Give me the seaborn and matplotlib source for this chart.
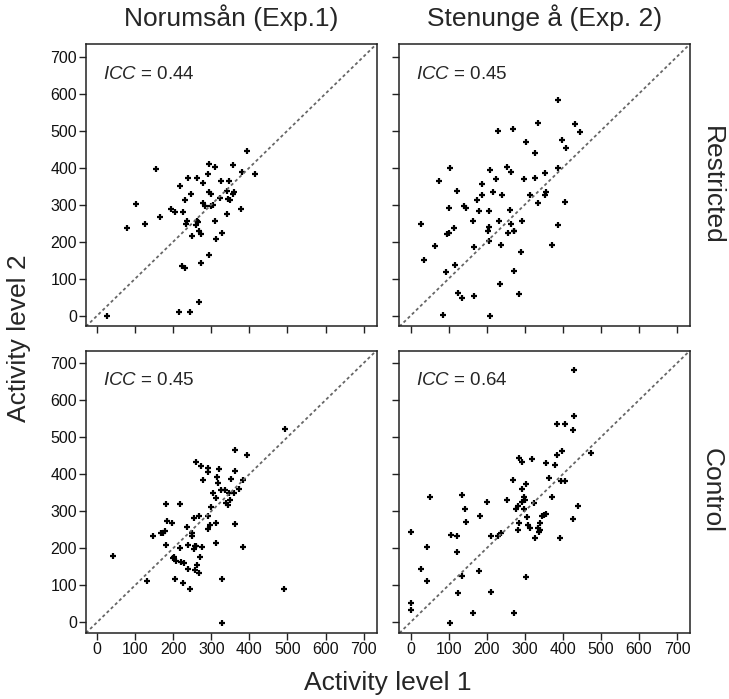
import numpy as np
import pandas as pd
import matplotlib
matplotlib.use("Agg")
import matplotlib.pyplot as plt
import seaborn as sns

# ---- data ----
streams = ["Norumsån (Exp.1)", "Stenunge å (Exp. 2)"]
treatments = ["Restricted", "Control"]
icc_values = {("Norumsån (Exp.1)", "Restricted"): "0.44",
              ("Stenunge å (Exp. 2)", "Restricted"): "0.45",
              ("Norumsån (Exp.1)", "Control"): "0.45",
              ("Stenunge å (Exp. 2)", "Control"): "0.64"}

nor_res_x = [394, 155, 295, 309, 358, 381, 415, 239, 263, 292, 279, 218, 325, 346,
             295, 298, 246, 230, 341, 359, 356, 322, 343, 349, 102, 279, 284, 299,
             305, 193, 205, 226, 379, 341, 165, 127, 78, 237, 262, 266, 260, 233,
             309, 267, 273, 250, 328, 312, 295, 274, 223, 230, 268, 215, 243, 25]
nor_res_y = [444, 397, 411, 402, 406, 388, 384, 373, 373, 384, 359, 350, 363, 363,
             334, 328, 330, 313, 336, 334, 330, 319, 315, 312, 301, 304, 297, 296,
             300, 287, 279, 279, 287, 274, 266, 249, 236, 257, 257, 252, 246, 247,
             257, 228, 221, 215, 223, 206, 164, 143, 134, 129, 36, 11, 11, -1]

ste_res_x = [388, 335, 433, 446, 229, 269, 302, 397, 408, 326, 105, 208, 253, 265,
             387, 352, 76, 225, 299, 326, 187, 122, 216, 187, 240, 314, 355, 352,
             175, 141, 146, 102, 336, 405, 179, 205, 261, 27, 163, 232, 265, 293,
             114, 100, 97, 206, 203, 257, 272, 273, 387, 205, 64, 167, 237, 372,
             290, 36, 118, 93, 272, 236, 124, 135, 167, 285, 85, 209]
ste_res_y = [584, 521, 517, 496, 500, 504, 470, 474, 453, 440, 398, 394, 402, 389,
             398, 385, 363, 369, 369, 373, 355, 338, 334, 325, 325, 325, 333, 326,
             313, 296, 292, 292, 304, 308, 282, 282, 286, 249, 257, 257, 249, 257,
             236, 224, 222, 239, 230, 223, 230, 228, 245, 201, 188, 185, 190, 190,
             173, 151, 138, 117, 122, 87, 61, 49, 53, 58, 3, -2]

nor_con_x = [493, 362, 394, 259, 272, 291, 291, 321, 362, 279, 315, 353, 383, 318,
             304, 325, 336, 372, 347, 359, 312, 350, 339, 344, 181, 218, 300, 255,
             269, 292, 185, 196, 312, 296, 362, 236, 292, 179, 169, 173, 148, 249,
             250, 181, 218, 239, 257, 260, 255, 276, 312, 383, 42, 202, 200, 207,
             221, 229, 271, 263, 238, 258, 268, 132, 205, 226, 243, 329, 490, 329]
nor_con_y = [523, 465, 452, 434, 423, 417, 405, 414, 408, 384, 392, 387, 383, 376,
             350, 358, 358, 359, 348, 349, 336, 330, 322, 317, 320, 320, 310, 281,
             286, 288, 274, 269, 268, 262, 265, 257, 251, 246, 242, 241, 234, 241,
             232, 210, 201, 210, 205, 207, 198, 202, 214, 202, 180, 177, 173, 165,
             162, 159, 176, 154, 143, 141, 133, 112, 117, 107, 90, 117, 90, -1]

ste_con_x = [430, 430, 384, 405, 426, 475, 397, 385, 285, 293, 319, 356, 380, 269,
             364, 396, 406, 302, 292, 52, 134, 200, 253, 299, 293, 300, 372, 323,
             283, 278, 299, 142, 441, 183, 306, 351, 356, 346, 426, 146, 285, 309,
             315, 336, 340, 338, 341, 281, 2, 238, 229, 212, 106, 121, 327, 393,
             44, 122, 27, 179, 44, 134, 303, 125, 212, 2, 2, 163, 273, 105]
ste_con_y = [680, 557, 535, 535, 518, 458, 462, 451, 445, 432, 441, 429, 424, 385,
             390, 382, 382, 374, 360, 338, 343, 326, 331, 338, 326, 329, 338, 322,
             313, 307, 306, 305, 313, 287, 283, 291, 292, 287, 279, 271, 267, 262,
             254, 254, 248, 245, 269, 249, 245, 241, 233, 232, 237, 232, 228, 228,
             202, 189, 143, 138, 112, 126, 121, 79, 83, 53, 32, 24, 24, -2]

tick_values = [0, 100, 200, 300, 400, 500, 600, 700]

frames = []
for s, t, xs, ys in [(streams[0], treatments[0], nor_res_x, nor_res_y),
                     (streams[1], treatments[0], ste_res_x, ste_res_y),
                     (streams[0], treatments[1], nor_con_x, nor_con_y),
                     (streams[1], treatments[1], ste_con_x, ste_con_y)]:
    frames.append(pd.DataFrame({"level1": xs, "level2": ys, "stream": s, "treatment": t}))
df = pd.concat(frames, ignore_index=True)

# ---- style ----
sns.set_style("ticks")
plt.rcParams["font.family"] = ["Liberation Sans", "DejaVu Sans"]
plt.rcParams["mathtext.fontset"] = "custom"
plt.rcParams["mathtext.rm"] = "Liberation Sans"
plt.rcParams["mathtext.it"] = "Liberation Sans:italic"
plt.rcParams["xtick.major.size"] = 5
plt.rcParams["ytick.major.size"] = 5
plt.rcParams["xtick.major.width"] = 1
plt.rcParams["ytick.major.width"] = 1
plt.rcParams["axes.linewidth"] = 1.1
plt.rcParams["axes.edgecolor"] = "#222222"

g = sns.FacetGrid(df, row="treatment", col="stream", row_order=treatments,
                  col_order=streams, sharex=True, sharey=True, despine=False)
g.map_dataframe(sns.scatterplot, x="level1", y="level2", marker="+", s=20,
                color="black", linewidth=1.6)

g.figure.set_size_inches(7.29, 6.99)
g.figure.subplots_adjust(left=86 / 729, right=690 / 729, top=1 - 44 / 699,
                         bottom=1 - 633 / 699, wspace=0.079, hspace=0.085)

lim = (-29, 734)
for (t, s), ax in g.axes_dict.items():
    ax.set_xlim(lim)
    ax.set_ylim(lim)
    ax.plot(lim, lim, color="#666666", lw=1.3, linestyle=(0, (1.7, 1.5)), zorder=1)
    ax.set_xticks(tick_values)
    ax.set_yticks(tick_values)
    ax.tick_params(labelsize=11.5, colors="#222222", labelcolor="#111111", pad=1.5)
    ax.set_title("")
    ax.set_xlabel("")
    ax.set_ylabel("")
    ax.text(0.058, 0.877, r"$\mathit{ICC}$ = " + icc_values[(s, t)],
            transform=ax.transAxes, fontsize=13.5, ha="left", va="baseline")
    for sp in ax.spines.values():
        sp.set_visible(True)

fig = g.figure
fig.text(231 / 729, 1 - 18 / 699, streams[0], ha="center", va="center", fontsize=19)
fig.text(545 / 729, 1 - 18 / 699, streams[1], ha="center", va="center", fontsize=19)
fig.text(712 / 729, 1 - 185 / 699, treatments[0], ha="center", va="center",
         rotation=270, fontsize=19)
fig.text(712 / 729, 1 - 491 / 699, treatments[1], ha="center", va="center",
         rotation=270, fontsize=19)
fig.text(388 / 729, 1 - 683 / 699, "Activity level 1", ha="center", va="center",
         fontsize=19)
fig.text(19 / 729, 1 - 338 / 699, "Activity level 2", ha="center", va="center",
         rotation=90, fontsize=19)

fig.savefig("out.png", dpi=100)
